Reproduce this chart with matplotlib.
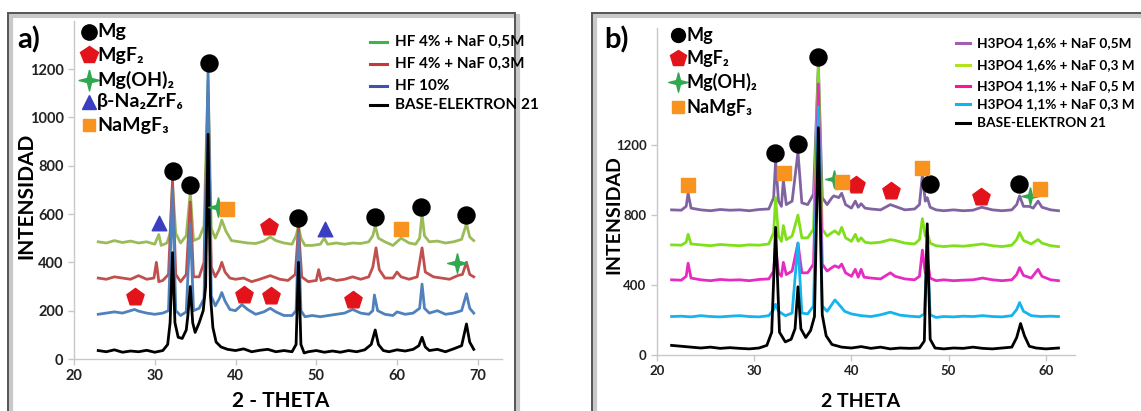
import numpy as np
import matplotlib.pyplot as plt
from matplotlib.patches import Rectangle

FONT = ['Lato', 'DejaVu Sans']
plt.rcParams['font.family'] = FONT
plt.rcParams['font.weight'] = 'bold'

# =====================================================
# Panel a) data : HF treatments
# =====================================================
a_base_x = [23, 24, 25, 26, 27, 28, 29, 30, 31, 31.6, 31.9, 32.2, 32.5, 32.9, 33.4, 33.9, 34.1, 34.4, 34.7,
            35.0, 35.5, 36.0, 36.3, 36.6, 36.9, 37.2, 37.6, 38.2, 39, 40, 41, 42, 43, 44, 45, 46, 47, 47.5,
            47.8, 48.1, 48.5, 49, 50, 51, 52, 53, 54, 55, 56, 56.8, 57.3, 57.7, 58.3, 59, 60, 61, 62, 62.7,
            63.1, 63.5, 64, 65, 66, 67, 68, 68.6, 69.0, 69.5]
a_base_y = [35, 30, 38, 28, 33, 30, 36, 28, 35, 60, 150, 440, 150, 90, 85, 120, 180, 300, 150,
            110, 150, 200, 300, 930, 260, 130, 70, 50, 40, 35, 42, 30, 36, 40, 30, 35, 30, 60,
            400, 60, 25, 30, 35, 28, 33, 28, 35, 30, 38, 60, 120, 60, 35, 30, 38, 33, 40, 55,
            90, 50, 35, 40, 30, 42, 55, 145, 70, 40]

a_hf10_x = [23, 24, 25, 26, 27, 27.5, 28, 29, 30, 31, 31.7, 32.2, 32.6, 33.2, 33.9, 34.4, 34.8, 35.5, 36.1,
            36.6, 37.0, 37.5, 38.0, 38.3, 38.7, 39.3, 40, 40.8, 41.5, 42.5, 43.5, 44.3, 45, 46, 47, 47.5,
            47.8, 48.1, 48.6, 49.5, 50.5, 51.5, 52.5, 53.5, 54.5, 55.5, 56.5, 57.0, 57.2, 57.6, 58.5, 59.5,
            60, 61, 62, 62.8, 63.1, 63.4, 64, 65, 66, 67, 68, 68.6, 69, 69.5]
a_hf10_y = [185, 190, 195, 190, 200, 205, 198, 190, 185, 190, 200, 700, 200, 180, 195, 560, 200, 210, 250,
            1200, 260, 220, 250, 275, 240, 205, 200, 225, 205, 185, 195, 210, 195, 180, 180, 200,
            520, 200, 175, 180, 175, 180, 185, 190, 205, 190, 185, 200, 265, 200, 185, 180,
            195, 185, 190, 210, 310, 210, 190, 200, 185, 190, 200, 270, 210, 190]

a_hf4_03_x = [23, 24, 25, 26, 27, 28, 29, 29.9, 30.2, 30.5, 31, 31.7, 32.2, 32.6, 33.2, 33.9, 34.4, 34.8,
              35.5, 36.1, 36.6, 37.0, 37.5, 38.0, 38.3, 38.7, 39.3, 40, 41, 42, 43, 44.3, 45.5, 46.5, 47.4,
              47.8, 48.2, 49, 50, 50.3, 50.6, 51.5, 52.5, 53.5, 54.5, 55.5, 56.5, 57.0, 57.4, 57.8, 58.5,
              59.5, 60, 60.5, 61.5, 62.5, 63.1, 63.5, 64.5, 65.5, 66.5, 67.5, 68.1, 68.6, 69, 69.5]
a_hf4_03_y = [335, 330, 340, 335, 330, 345, 330, 335, 400, 320, 325, 350, 740, 350, 320, 350, 650, 340,
              340, 400, 1100, 380, 340, 370, 400, 360, 335, 330, 335, 320, 330, 345, 330, 325, 350,
              545, 340, 320, 325, 370, 325, 335, 325, 330, 340, 330, 340, 380, 460, 370, 335,
              335, 360, 340, 330, 340, 460, 360, 340, 335, 330, 345, 350, 400, 350, 340]

a_hf4_05_x = [23, 24, 25, 26, 27, 28, 29, 30, 30.5, 30.8, 31.5, 31.9, 32.2, 32.6, 33.2, 33.9, 34.4, 34.8,
              35.5, 36.1, 36.6, 37.0, 37.5, 38.0, 38.3, 38.8, 39.5, 40.5, 41.5, 42.5, 43.5, 44.3, 45, 46,
              47, 47.5, 47.8, 48.1, 48.6, 49.5, 50.5, 51.0, 51.4, 52.5, 53.5, 54.5, 55.5, 56.5, 57.0,
              57.3, 57.7, 58.5, 59.5, 60.5, 61.5, 62.3, 62.8, 63.1, 63.4, 64, 65, 66, 67, 68, 68.6, 69, 69.5]
a_hf4_05_y = [485, 480, 490, 482, 488, 480, 485, 475, 515, 470, 480, 520, 720, 520, 480, 510, 690, 490,
              500, 550, 1150, 540, 500, 540, 575, 530, 490, 485, 480, 478, 488, 505, 490, 480,
              475, 510, 550, 500, 470, 470, 475, 500, 475, 480, 475, 480, 478, 485, 510,
              550, 500, 485, 470, 500, 480, 475, 500, 600, 510, 485, 488, 480, 485, 495, 560, 505, 490]

# phase markers panel a
a_mg_x = [32.2, 34.4, 36.7, 47.8, 57.3, 63.0, 68.6]
a_mg_y = [778, 722, 1225, 585, 588, 628, 595]
a_mgf2_x = [44.2, 27.5, 41.0, 44.4, 54.5]
a_mgf2_y = [547, 258, 265, 261, 245]
a_oh_x = [37.85, 67.4]
a_oh_y = [627, 396]
a_nazr_x = [30.55, 51.1]
a_nazr_y = [561, 536]
a_namg_x = [39.0, 60.5]
a_namg_y = [619, 536]

# =====================================================
# Panel b) data : H3PO4 treatments
# =====================================================
b_base_x = [21.5, 22.5, 23.5, 24.5, 25.5, 26.5, 27.5, 28.5, 29.5, 30.5, 31.3, 31.8, 32.2, 32.6, 33.2, 33.8,
            34.2, 34.5, 34.8, 35.3, 35.8, 36.2, 36.6, 37.0, 37.4, 38, 39, 40, 41, 42, 43, 44, 45, 46, 47,
            47.5, 47.8, 48.1, 48.6, 49.5, 50.5, 51.5, 52.5, 53.5, 54.5, 55.5, 56.5, 57.0, 57.4, 57.8,
            58.3, 59, 60, 61.3]
b_base_y = [55, 50, 45, 40, 45, 38, 42, 38, 35, 40, 55, 130, 730, 130, 75, 90,
            150, 390, 150, 100, 140, 220, 1300, 230, 110, 60, 45, 40, 48, 38, 45, 35, 40, 38, 40,
            80, 750, 90, 40, 35, 40, 38, 45, 38, 35, 40, 45, 100, 180, 110,
            50, 40, 35, 40]

b_11_03_x = [21.5, 22.5, 23.5, 24.5, 25.5, 26.5, 27.5, 28.5, 29.5, 30.5, 31.5, 32.0, 32.2, 32.5, 33.2,
             33.9, 34.5, 34.9, 35.5, 36.1, 36.6, 37.0, 37.5, 38.0, 38.3, 38.7, 39.3, 40, 41, 42, 43, 44,
             45, 46, 47, 47.5, 47.8, 48.1, 48.7, 49.5, 50.5, 51.5, 52.5, 53.5, 54.5, 55.5, 56.5, 57.0,
             57.3, 57.7, 58.5, 59.5, 60.5, 61.3]
b_11_03_y = [220, 222, 218, 225, 220, 218, 222, 225, 220, 218, 225, 260, 290, 250, 225,
             240, 640, 240, 235, 280, 1420, 280, 250, 290, 315, 290, 250, 235, 225, 220, 230, 245,
             228, 222, 218, 235, 600, 230, 215, 220, 218, 222, 220, 225, 220, 218, 225, 260,
             300, 250, 225, 220, 222, 220]

b_11_05_x = [21.5, 22.5, 23.0, 23.2, 23.5, 24.5, 25.5, 26.5, 27.5, 28.5, 29.5, 30.5, 31.5, 32.0, 32.2, 32.5,
             32.8, 33.0, 33.3, 33.9, 34.5, 34.9, 35.5, 36.1, 36.6, 37.0, 37.5, 38.0, 38.3, 38.7, 39.0, 39.4,
             40.0, 40.4, 40.7, 41.0, 41.3, 42, 43, 44, 44.5, 45.5, 46.5, 47.0, 47.3, 47.6, 47.8, 48.1,
             48.7, 49.5, 50.5, 51.5, 52.5, 53.5, 54.5, 55.5, 56.5, 57.0, 57.3, 57.7, 58.5, 59.2, 59.6,
             60.5, 61.3]
b_11_05_y = [430, 428, 450, 525, 440, 430, 425, 432, 428, 430, 425, 432, 435, 480, 620, 470,
             450, 530, 460, 480, 640, 470, 470, 520, 1550, 520, 480, 500, 510, 500, 520, 470,
             450, 490, 445, 490, 445, 440, 435, 470, 450, 435, 430, 450, 600, 470, 550, 440,
             425, 430, 425, 428, 430, 440, 430, 425, 430, 460, 500, 455, 440, 490, 450,
             430, 425]

b_16_03_x = [21.5, 22.5, 23.0, 23.2, 23.5, 24.5, 25.5, 26.5, 27.5, 28.5, 29.5, 30.5, 31.5, 32.0, 32.2, 32.5,
             32.8, 33.0, 33.3, 33.9, 34.5, 34.9, 35.5, 36.1, 36.6, 37.0, 37.5, 38.0, 38.3, 38.7, 39.0, 39.4,
             40.0, 40.4, 40.7, 41.0, 41.4, 42, 43, 44, 44.5, 45.5, 46.5, 47.0, 47.3, 47.6, 47.8, 48.1,
             48.7, 49.5, 50.5, 51.5, 52.5, 53.5, 54.5, 55.5, 56.5, 57.0, 57.3, 57.7, 58.5, 59.2, 59.6,
             60.5, 61.3]
b_16_03_y = [630, 628, 645, 690, 635, 630, 625, 632, 628, 625, 630, 628, 635, 700, 900, 680,
             650, 740, 660, 680, 800, 670, 670, 720, 1650, 720, 680, 700, 710, 690, 730, 670,
             650, 690, 650, 670, 645, 640, 645, 660, 655, 640, 635, 660, 780, 680, 700, 640,
             625, 620, 625, 622, 628, 635, 625, 620, 628, 660, 700, 655, 635, 660, 640,
             625, 620]

b_16_05_x = [21.5, 22.5, 23.0, 23.2, 23.5, 24.5, 25.5, 26.5, 27.5, 28.5, 29.5, 30.5, 31.5, 32.0, 32.2, 32.5,
             32.8, 33.0, 33.3, 33.9, 34.5, 34.9, 35.5, 36.1, 36.6, 37.0, 37.5, 38.0, 38.2, 38.7, 39.0, 39.4,
             40.0, 40.4, 40.7, 41.0, 41.4, 42, 43, 44, 44.5, 45.5, 46.5, 47.0, 47.3, 47.6, 47.8, 48.1,
             48.7, 49.5, 50.5, 51.5, 52.5, 53.4, 54.5, 55.5, 56.5, 57.0, 57.3, 57.7, 58.3, 58.7, 59.2,
             59.6, 60.5, 61.3]
b_16_05_y = [830, 828, 850, 925, 840, 830, 825, 832, 828, 830, 825, 832, 835, 900, 1110, 880,
             850, 1000, 860, 880, 1160, 870, 860, 920, 1660, 900, 860, 900, 910, 900, 925, 860,
             840, 880, 845, 865, 840, 835, 830, 860, 850, 830, 835, 860, 1030, 880, 900, 845,
             830, 825, 830, 825, 828, 845, 830, 825, 830, 860, 910, 850, 850, 840, 880,
             845, 830, 825]

# phase markers panel b
b_mg_x = [32.18, 34.48, 36.57, 48.06, 57.29]
b_mg_y = [1153, 1206, 1704, 976, 976]
b_mgf2_x = [40.45, 44.1, 53.3]
b_mgf2_y = [972, 940, 902]
b_oh_x = [38.2, 58.4]
b_oh_y = [1006, 911]
b_namg_x = [23.2, 33.1, 39.0, 47.3, 59.4]
b_namg_y = [972, 1042, 991, 1067, 947]

# =====================================================
# Styles
# =====================================================
C_MG, C_MGF2, C_OH, C_NAZR, C_NAMG = 'black', '#e3131b', '#2fa84f', '#3a3fc2', '#f7931e'
# thin four-pointed star for Mg(OH)2
STAR4 = [(0, 1), (0.2, 0.2), (1, 0), (0.2, -0.2), (0, -1), (-0.2, -0.2), (-1, 0), (-0.2, 0.2), (0, 1)]

W, H = 1141, 411
fig = plt.figure(figsize=(W/100, H/100), dpi=100)

def fx(px):
    return px/W

def fy(py):
    return 1 - py/H

# panel frames
for x0, x1 in [(8, 515), (592, 1160)]:
    fig.patches.append(Rectangle((fx(x0+3), fy(430)), fx(x1-x0), fy(16)-fy(430),
                                 transform=fig.transFigure, fc='none', ec='#c8c8c8', lw=3, zorder=0))
    fig.patches.append(Rectangle((fx(x0), fy(430)), fx(x1-x0), fy(13)-fy(430),
                                 transform=fig.transFigure, fc='none', ec='#555555', lw=1.4, zorder=1))

axA = fig.add_axes([fx(74), fy(359), fx(502-74), fy(20.7)-fy(359)])
axB = fig.add_axes([fx(657), fy(355), fx(1075-657), fy(28)-fy(355)])

for ax in (axA, axB):
    ax.set_facecolor('none')
    for s in ('top', 'right'):
        ax.spines[s].set_visible(False)
    for s in ('left', 'bottom'):
        ax.spines[s].set_color('#c8c8c8')
        ax.spines[s].set_linewidth(1.0)
    ax.tick_params(colors='#c8c8c8', labelcolor='#222222', length=4, width=1.0)

# ---- panel a ----
lw = 2.0
axA.plot(a_hf4_05_x, a_hf4_05_y, color='#9bbb59', lw=lw)
axA.plot(a_hf4_03_x, a_hf4_03_y, color='#c0504d', lw=lw)
axA.plot(a_hf10_x, a_hf10_y, color='#4f81bd', lw=lw)
axA.plot(a_base_x, a_base_y, color='black', lw=lw)
axA.scatter(a_mg_x, a_mg_y, s=150, marker='o', color=C_MG, zorder=5)
axA.scatter(a_mgf2_x, a_mgf2_y, s=170, marker='p', color=C_MGF2, zorder=5)
axA.scatter(a_oh_x, a_oh_y, s=200, marker=STAR4, color=C_OH, zorder=5)
axA.scatter(a_nazr_x, a_nazr_y, s=110, marker='^', color=C_NAZR, zorder=5)
axA.scatter(a_namg_x, a_namg_y, s=90, marker='s', color=C_NAMG, zorder=5)
axA.set_xlim(20, 73)
axA.set_ylim(0, 1400)
axA.set_xticks([20, 30, 40, 50, 60, 70])
axA.set_yticks([0, 200, 400, 600, 800, 1000, 1200])
axA.tick_params(labelsize=10.5)

# ---- panel b ----
axB.plot(b_16_05_x, b_16_05_y, color='#8064a2', lw=lw)
axB.plot(b_16_03_x, b_16_03_y, color='#7fe01a', lw=lw)
axB.plot(b_11_05_x, b_11_05_y, color='#e62cc0', lw=lw)
axB.plot(b_11_03_x, b_11_03_y, color='#14b4ee', lw=lw)
axB.plot(b_base_x, b_base_y, color='black', lw=lw)
axB.scatter(b_mg_x, b_mg_y, s=150, marker='o', color=C_MG, zorder=5)
axB.scatter(b_mgf2_x, b_mgf2_y, s=170, marker='p', color=C_MGF2, zorder=5)
axB.scatter(b_oh_x, b_oh_y, s=160, marker=STAR4, color=C_OH, zorder=5)
axB.scatter(b_namg_x, b_namg_y, s=90, marker='s', color=C_NAMG, zorder=5)
axB.set_xlim(20, 63)
axB.set_ylim(0, 1870)
axB.set_xticks([20, 30, 40, 50, 60])
axB.set_yticks([0, 400, 800, 1200])
axB.tick_params(labelsize=9.5)

for ax in (axA, axB):
    for lab in ax.get_xticklabels() + ax.get_yticklabels():
        lab.set_fontweight('bold')

# ---- axis titles & panel letters ----
fig.text(fx(26), fy(196), 'INTENSIDAD', rotation=90, ha='center', va='center', fontsize=15, fontweight='bold')
fig.text(fx(281), fy(401), '2 - THETA', ha='center', va='center', fontsize=15, fontweight='bold')
fig.text(fx(614), fy(215), 'INTENSIDAD', rotation=90, ha='center', va='center', fontsize=14, fontweight='bold')
fig.text(fx(861), fy(401), '2 THETA', ha='center', va='center', fontsize=14, fontweight='bold')
fig.text(fx(17), fy(40), 'a)', ha='left', va='center', fontsize=21, fontweight='bold')
fig.text(fx(604), fy(40), 'b)', ha='left', va='center', fontsize=21, fontweight='bold')

# ---- phase keys ----
def phase_key(x_mark, x_text, rows, size):
    for y, mk, col, ms, label in rows:
        fig.lines.append(plt.Line2D([fx(x_mark)], [fy(y)], transform=fig.transFigure, marker=mk,
                                    color=col, markersize=ms, linestyle='none'))
        fig.text(fx(x_text), fy(y), label, ha='left', va='center', fontsize=size, fontweight='bold',
                 family=FONT)

phase_key(89, 97, [(32, 'o', C_MG, 11, 'Mg'),
                   (55, 'p', C_MGF2, 13, 'MgF₂'),
                   (80, STAR4, C_OH, 15, 'Mg(OH)₂'),
                   (102, '^', C_NAZR, 10, 'β-Na₂ZrF₆'),
                   (125, 's', C_NAMG, 9, 'NaMgF₃')], 14)
phase_key(678, 686, [(35, 'o', C_MG, 10, 'Mg'),
                     (58, 'p', C_MGF2, 12, 'MgF₂'),
                     (82, STAR4, C_OH, 14, 'Mg(OH)₂'),
                     (107, 's', C_NAMG, 9, 'NaMgF₃')], 13)

# ---- treatment keys ----
def line_key(x0, x1, x_text, rows, size):
    for y, col, label in rows:
        fig.lines.append(plt.Line2D([fx(x0), fx(x1)], [fy(y), fy(y)], transform=fig.transFigure,
                                    color=col, lw=2.2))
        fig.text(fx(x_text), fy(y), label, ha='left', va='center', fontsize=size, fontweight='bold',
                 family=FONT)

line_key(370, 387, 395, [(42, '#3cb54a', 'HF 4% + NaF 0,5M'),
                         (64, '#c8373a', 'HF 4% + NaF 0,3M'),
                         (86, '#4050b5', 'HF 10%'),
                         (105, 'black', 'BASE-ELEKTRON 21')], 11)
line_key(956, 970, 977, [(43, '#a05fb0', 'H3PO4 1,6% + NaF 0,5M'),
                         (65, '#b2e21e', 'H3PO4 1,6% + NaF 0,3 M'),
                         (86, '#ff1493', 'H3PO4 1,1% + NaF 0,5 M'),
                         (104, '#10b4f0', 'H3PO4 1,1% + NaF 0,3 M'),
                         (123, 'black', 'BASE-ELEKTRON 21')], 9.8)

fig.savefig('out.png', dpi=100)
